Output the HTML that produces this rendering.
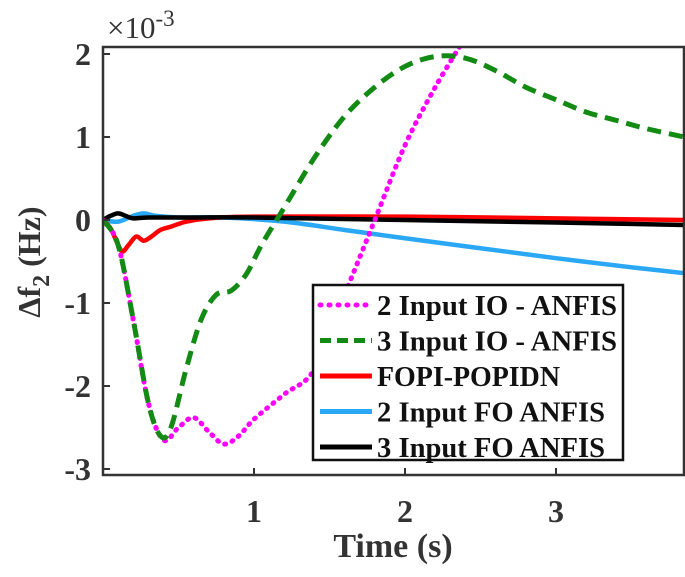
<!DOCTYPE html>
<html><head><meta charset="utf-8"><style>
body{margin:0;background:#fff}
svg{display:block;font-family:"Liberation Serif",serif;font-weight:bold}
</style></head><body>
<svg id="chart" width="685" height="577" viewBox="0 0 685 577">
<defs><clipPath id="clip"><rect x="103" y="47" width="581" height="428"/></clipPath></defs>
<g id="series" clip-path="url(#clip)"></g>
<rect x="103" y="47" width="581" height="428" fill="none" stroke="#333" stroke-width="2.5"/>
<g id="ticks"></g>
<text x="107" y="38" font-size="31" font-weight="normal" fill="#333">×10<tspan dy="-12" font-size="23">-3</tspan></text>
<text transform="translate(40,262) rotate(-90)" text-anchor="middle" font-size="32" fill="#333">Δf<tspan dy="9" font-size="24">2</tspan><tspan dy="-9"> (Hz)</tspan></text>
<text x="393" y="557" text-anchor="middle" font-size="34" fill="#333">Time (s)</text>
<g>
<rect x="313" y="285" width="310" height="175" fill="#fff" stroke="#111" stroke-width="2.5"/>
<g id="legend"></g>
</g>
</svg>
<script>
const xTicks=[1,2,3];
const yTicks=[-3,-2,-1,0,1,2];
const seriesNames=["2 Input IO - ANFIS","3 Input IO - ANFIS","FOPI-POPIDN","2 Input FO ANFIS","3 Input FO ANFIS"];
const magT=[0,0.1,0.2,0.3,0.4,0.5,0.6,0.7,0.8,0.9,1.0,1.2,1.4,1.6,1.8,2.0,2.2,2.4];
const magV=[0,-0.3,-1.2,-2.2,-2.65,-2.5,-2.38,-2.55,-2.7,-2.6,-2.4,-2.1,-1.8,-0.9,0,0.9,1.6,2.2];
const grnT=[0,0.1,0.2,0.3,0.38,0.45,0.55,0.65,0.75,0.85,0.95,1.05,1.2,1.4,1.6,1.8,2.0,2.2,2.4,2.6,2.8,3.0,3.2,3.4,3.6,3.85];
const grnV=[0,-0.3,-1.2,-2.2,-2.6,-2.5,-1.8,-1.2,-0.9,-0.85,-0.65,-0.3,0.15,0.75,1.25,1.6,1.85,1.97,1.95,1.8,1.6,1.45,1.3,1.2,1.1,1.0];
const redT=[0,0.05,0.1,0.13,0.17,0.22,0.27,0.32,0.38,0.45,0.55,0.7,1,2,3,3.85];
const redV=[0,-0.1,-0.3,-0.38,-0.3,-0.2,-0.25,-0.2,-0.12,-0.08,-0.02,0.02,0.04,0.04,0.02,0];
const bluT=[0,0.1,0.2,0.27,0.35,0.5,0.8,1.2,1.6,2,2.5,3,3.5,3.85];
const bluV=[0,-0.02,0.05,0.08,0.05,0.03,0.03,-0.02,-0.12,-0.22,-0.34,-0.46,-0.57,-0.64];
const blkT=[0,0.05,0.1,0.15,0.2,0.3,0.6,1,2,3,3.85];
const blkV=[0,0.05,0.08,0.05,0.02,0.03,0.03,0.03,0,-0.03,-0.06];
const NS="http://www.w3.org/2000/svg";
const X=t=>103+t*151, Y=v=>220-v*83;
function path(ts,vs){
  const p=ts.map((t,i)=>[X(t),Y(vs[i])]);
  let d="M"+p[0][0]+","+p[0][1];
  for(let i=0;i<p.length-1;i++){
    const p0=p[Math.max(i-1,0)],p1=p[i],p2=p[i+1],p3=p[Math.min(i+2,p.length-1)];
    d+=" C"+(p1[0]+(p2[0]-p0[0])/6)+","+(p1[1]+(p2[1]-p0[1])/6)+" "+(p2[0]-(p3[0]-p1[0])/6)+","+(p2[1]-(p3[1]-p1[1])/6)+" "+p2[0]+","+p2[1];
  }
  return d;
}
const styles=[
 {c:"#ff00ff",dash:"1 7",cap:"round",w:5},
 {c:"#138a13",dash:"14 8",cap:"butt",w:5},
 {c:"#ff0000",dash:"",cap:"round",w:4.5},
 {c:"#2aa8f5",dash:"",cap:"round",w:4.5},
 {c:"#000000",dash:"",cap:"round",w:4.5}];
const data=[[magT,magV],[grnT,grnV],[redT,redV],[bluT,bluV],[blkT,blkV]];
const names=["series-2-input-io-anfis","series-3-input-io-anfis","series-fopi-popidn","series-2-input-fo-anfis","series-3-input-fo-anfis"];
const legendWidths=[240,240,183,228,228];
const sg=document.getElementById("series");
[3,2,4,0,1].forEach(i=>{
  const el=document.createElementNS(NS,"path");
  el.setAttribute("d",path(data[i][0],data[i][1]));
  el.setAttribute("fill","none");
  el.setAttribute("stroke",styles[i].c);
  el.setAttribute("stroke-width",styles[i].w);
  el.setAttribute("stroke-linecap",styles[i].cap);
  el.setAttribute("stroke-linejoin","round");
  if(styles[i].dash)el.setAttribute("stroke-dasharray",styles[i].dash);
  
  
  sg.appendChild(el);
});
const tg=document.getElementById("ticks");
xTicks.forEach(t=>{
  const l=document.createElementNS(NS,"line");
  l.setAttribute("x1",X(t));l.setAttribute("x2",X(t));l.setAttribute("y1",475);l.setAttribute("y2",468);
  l.setAttribute("stroke","#333");l.setAttribute("stroke-width",2);
  
  
  tg.appendChild(l);
  const tx=document.createElementNS(NS,"text");
  tx.setAttribute("x",X(t));tx.setAttribute("y",522);tx.setAttribute("text-anchor","middle");
  tx.setAttribute("font-size","32");tx.setAttribute("fill","#333");tx.textContent=t;
  
  
  tg.appendChild(tx);
});
yTicks.forEach(v=>{
  const l=document.createElementNS(NS,"line");
  l.setAttribute("x1",103);l.setAttribute("x2",110);l.setAttribute("y1",Y(v));l.setAttribute("y2",Y(v));
  l.setAttribute("stroke","#333");l.setAttribute("stroke-width",2);
  
  
  tg.appendChild(l);
  const tx=document.createElementNS(NS,"text");
  tx.setAttribute("x",91);tx.setAttribute("y",Y(v)+11);tx.setAttribute("text-anchor","end");
  tx.setAttribute("font-size","32");tx.setAttribute("fill","#333");tx.textContent=v;
  
  
  tg.appendChild(tx);
});
const lg=document.getElementById("legend");
seriesNames.forEach((n,i)=>{
  const y=305+i*35.5;
  const l=document.createElementNS(NS,"line");
  l.setAttribute("x1",320);l.setAttribute("x2",372);l.setAttribute("y1",y);l.setAttribute("y2",y);
  l.setAttribute("stroke",styles[i].c);l.setAttribute("stroke-width",5);
  l.setAttribute("stroke-linecap",i==0?"round":"butt");
  if(styles[i].dash)l.setAttribute("stroke-dasharray",i==0?"1 8":"11 6");
  
  
  lg.appendChild(l);
  const tx=document.createElementNS(NS,"text");
  tx.setAttribute("x",377);tx.setAttribute("y",y+10);tx.setAttribute("font-size","28");
  tx.setAttribute("textLength",legendWidths[i]);tx.setAttribute("lengthAdjust","spacingAndGlyphs");
  tx.setAttribute("fill","#111");tx.textContent=n;
  
  
  lg.appendChild(tx);
});
</script>
</body></html>
